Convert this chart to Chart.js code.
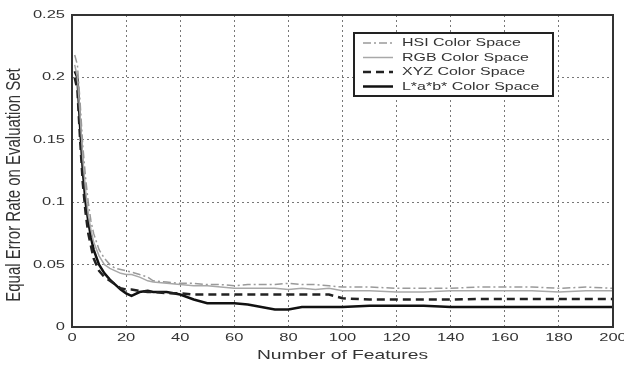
<!DOCTYPE html>
<html>
<head>
<meta charset="utf-8">
<script src="https://cdn.jsdelivr.net/npm/chart.js@4/dist/chart.umd.min.js"></script>
<style>
  html, body { margin: 0; padding: 0; background: #fff; }
  #wrap { width: 624px; height: 365px; }
</style>
</head>
<body>
<div id="wrap"><canvas id="chart"></canvas></div>
<script>
// number of features (x positions of the samples)
const features = [1, 2, 3, 4, 5, 6, 7, 8, 10, 12, 14, 16, 18, 20, 22, 25, 28, 30, 35, 40,
    45, 50, 55, 60, 65, 70, 75, 80, 85, 90, 95, 100, 110, 120, 130, 140, 150, 160, 170, 180, 190, 200];

const hsiErr = [0.218, 0.21, 0.18, 0.145, 0.12, 0.1, 0.085, 0.075, 0.062, 0.055, 0.05, 0.047, 0.046, 0.045, 0.044, 0.042, 0.04, 0.037, 0.036, 0.035,
    0.035, 0.034, 0.034, 0.033, 0.034, 0.034, 0.034, 0.035, 0.034, 0.034, 0.033, 0.032, 0.032, 0.031, 0.031, 0.031, 0.032, 0.032, 0.032, 0.031, 0.032, 0.031];
const rgbErr = [0.21, 0.2, 0.17, 0.135, 0.11, 0.09, 0.078, 0.068, 0.057, 0.05, 0.047, 0.045, 0.043, 0.042, 0.042, 0.04, 0.037, 0.036, 0.035, 0.034,
    0.033, 0.033, 0.032, 0.031, 0.031, 0.031, 0.031, 0.03, 0.031, 0.03, 0.031, 0.029, 0.029, 0.028, 0.028, 0.029, 0.029, 0.029, 0.029, 0.028, 0.029, 0.029];
const xyzErr = [0.2, 0.19, 0.15, 0.115, 0.092, 0.075, 0.065, 0.055, 0.045, 0.04, 0.037, 0.034, 0.031, 0.03, 0.03, 0.029, 0.028, 0.028, 0.027, 0.027,
    0.026, 0.026, 0.026, 0.026, 0.026, 0.026, 0.026, 0.026, 0.026, 0.026, 0.026, 0.023, 0.022, 0.022, 0.022, 0.022, 0.0225, 0.0225, 0.0225, 0.0225, 0.0225, 0.0225];
const labErr = [0.205, 0.2, 0.16, 0.125, 0.1, 0.085, 0.072, 0.062, 0.05, 0.043, 0.038, 0.034, 0.03, 0.027, 0.025, 0.028, 0.029, 0.028, 0.028, 0.026,
    0.022, 0.019, 0.019, 0.019, 0.018, 0.016, 0.014, 0.014, 0.016, 0.016, 0.016, 0.016, 0.017, 0.017, 0.017, 0.016, 0.016, 0.016, 0.016, 0.016, 0.016, 0.016];

const seriesLabels = ["HSI Color Space", "RGB Color Space", "XYZ Color Space", "L*a*b* Color Space"];
const xTicks = [0, 20, 40, 60, 80, 100, 120, 140, 160, 180, 200];
const yTicks = [0, 0.05, 0.1, 0.15, 0.2, 0.25];
const xTitle = "Number of Features";
const yTitle = "Equal Error Rate on Evaluation Set";

const FONT = "'Liberation Sans', Arial, sans-serif";
const TEXT = "#333";

function toPoints(values) {
    return features.map((f, i) => ({ x: f, y: values[i] }));
}

// the original picture is stretched sideways, so text gets a horizontal scale
function stretchText(ctx, text, x, y, align, sx) {
    const w = ctx.measureText(text).width * sx;
    let left = x;
    if (align === "center") left = x - w / 2;
    if (align === "right") left = x - w;
    ctx.save();
    ctx.translate(left, y);
    ctx.scale(sx, 1);
    ctx.textAlign = "left";
    ctx.fillText(text, 0, 0);
    ctx.restore();
}

// tick labels, axis titles, frame and matlab style legend box
const matlabLook = {
    id: "matlabLook",
    afterDatasetsDraw(chart) {
        const ctx = chart.ctx;
        const a = chart.chartArea;
        const xs = chart.scales.x, ys = chart.scales.y;
        ctx.save();
        ctx.fillStyle = TEXT;
        ctx.textBaseline = "middle";

        ctx.font = "11px " + FONT;
        xTicks.forEach(v => stretchText(ctx, String(v), xs.getPixelForValue(v), a.bottom + 11, "center", 1.5));
        yTicks.forEach(v => stretchText(ctx, String(v), a.left - 7, ys.getPixelForValue(v), "right", 1.5));

        ctx.font = "13px " + FONT;
        stretchText(ctx, xTitle, (a.left + a.right) / 2, a.bottom + 28, "center", 1.48);

        ctx.save();
        ctx.translate(15, 185);
        ctx.rotate(-Math.PI / 2);
        ctx.scale(1, 1.3);
        ctx.font = "15px " + FONT;
        ctx.textAlign = "center";
        ctx.fillText(yTitle, 0, 0);
        ctx.restore();

        // legend
        const left = 354, top = 33, w = 199, h = 63;
        ctx.fillStyle = "#fff";
        ctx.fillRect(left, top, w, h);
        ctx.strokeStyle = "#222";
        ctx.lineWidth = 2;
        ctx.strokeRect(left, top, w, h);
        ctx.font = "11px " + FONT;
        chart.data.datasets.forEach((ds, i) => {
            const y = top + 10 + i * 14.5;
            ctx.beginPath();
            ctx.strokeStyle = ds.borderColor;
            ctx.lineWidth = ds.borderWidth;
            ctx.setLineDash(ds.borderDash || []);
            ctx.moveTo(363, y);
            ctx.lineTo(393, y);
            ctx.stroke();
            ctx.setLineDash([]);
            ctx.fillStyle = TEXT;
            stretchText(ctx, ds.label, 402, y, "left", 1.45);
        });

        ctx.strokeStyle = "#333";
        ctx.lineWidth = 2;
        ctx.strokeRect(a.left, a.top, a.right - a.left, a.bottom - a.top);
        ctx.restore();
    }
};

new Chart(document.getElementById("chart"), {
    type: "line",
    data: {
        datasets: [
            {
                label: seriesLabels[0],
                data: toPoints(hsiErr),
                borderColor: "#9a9a9a",
                borderWidth: 1.5,
                borderDash: [8, 3, 2, 3]
            },
            {
                label: seriesLabels[1],
                data: toPoints(rgbErr),
                borderColor: "#a8a8a8",
                borderWidth: 1.5
            },
            {
                label: seriesLabels[2],
                data: toPoints(xyzErr),
                borderColor: "#222",
                borderWidth: 2.5,
                borderDash: [8, 5]
            },
            {
                label: seriesLabels[3],
                data: toPoints(labErr),
                borderColor: "#111",
                borderWidth: 2.5
            }
        ]
    },
    options: {
        responsive: true,
        maintainAspectRatio: false,
        animation: false,
        elements: { point: { radius: 0 }, line: { tension: 0 } },
        layout: { padding: { top: 15, right: 11, left: 0, bottom: 0 } },
        plugins: {
            legend: { display: false },
            tooltip: { enabled: false }
        },
        scales: {
            x: {
                type: "linear",
                min: 0,
                max: 200,
                afterBuildTicks: s => { s.ticks = xTicks.map(v => ({ value: v })); },
                afterFit: s => { s.height = 38; },
                ticks: { display: false },
                grid: { color: "#777", lineWidth: 1, drawTicks: false },
                border: { display: false, dash: [2, 3] }
            },
            y: {
                min: 0,
                max: 0.25,
                afterBuildTicks: s => { s.ticks = yTicks.map(v => ({ value: v })); },
                afterFit: s => { s.width = 72; },
                ticks: { display: false },
                grid: { color: "#777", lineWidth: 1, drawTicks: false },
                border: { display: false, dash: [2, 3] }
            }
        }
    },
    plugins: [matlabLook]
});
</script>
</body>
</html>
